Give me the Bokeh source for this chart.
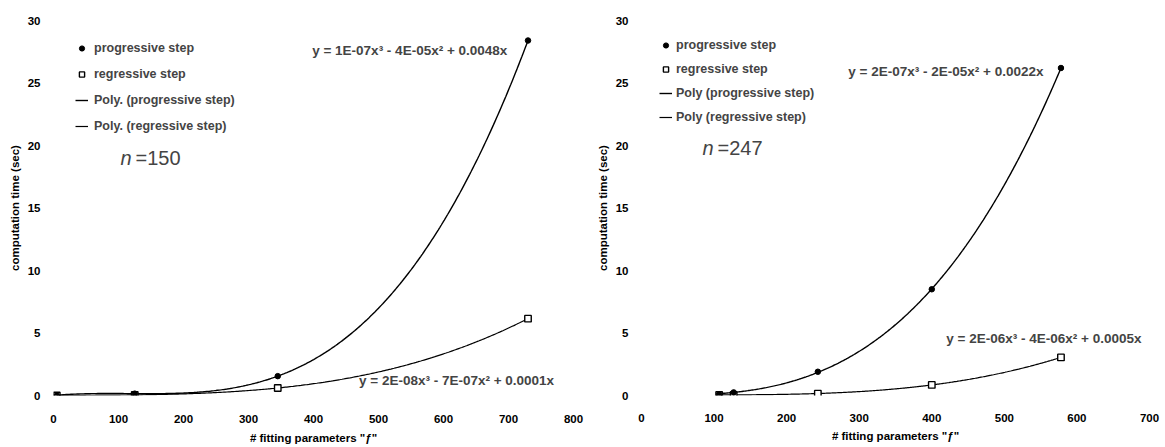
import numpy as np
from bokeh.plotting import figure
from bokeh.layouts import row
from bokeh.models import Legend, LegendItem, Label, FixedTicker
from bokeh.embed import file_html
from bokeh.resources import INLINE

# ---------------- data ----------------
left_x = [5, 125, 345, 730]
left_prog = [0.0, 0.15, 1.55, 28.4]
left_reg = [0.0, 0.05, 0.6, 6.15]
left_xticks = [0, 100, 200, 300, 400, 500, 600, 700, 800]

right_x = [107, 127, 243, 400, 578]
right_prog = [0.1, 0.25, 1.9, 8.5, 26.2]
right_reg = [0.05, 0.05, 0.15, 0.85, 3.05]
right_xticks = [0, 100, 200, 300, 400, 500, 600, 700]

y_ticks = [0, 5, 10, 15, 20, 25, 30]

legend_labels = ["progressive step", "regressive step",
                 "Poly. (progressive step)", "Poly. (regressive step)"]
legend_labels_right = ["progressive step", "regressive step",
                       "Poly (progressive step)", "Poly (regressive step)"]
left_eqs = ["y = 1E-07x³ - 4E-05x² + 0.0048x", "y = 2E-08x³ - 7E-07x² + 0.0001x"]
right_eqs = ["y = 2E-07x³ - 2E-05x² + 0.0022x", "y = 2E-06x³ - 4E-06x² + 0.0005x"]
n_values = ["=150", "=247"]
x_title = '# fitting parameters "ƒ"'
y_title = "computation time (sec)"

FONT = "Liberation Sans"


def cubic_fit(x, y):
    x = np.asarray(x, float)
    y = np.asarray(y, float)
    A = np.column_stack([x ** 3, x ** 2, x])
    c = np.linalg.lstsq(A, y, rcond=None)[0]
    xs = np.linspace(x.min(), x.max(), 300)
    ys = np.column_stack([xs ** 3, xs ** 2, xs]) @ c
    return xs, ys


def make_plot(xs, prog, reg, xmax, xticks, width, bl, br, bt, bb, labels,
              eqs, eq_pos, nval, n_pos, leg_loc, leg_h, leg_sp, xl_so, xt_so,
              leg_so):
    p = figure(width=width, height=447, x_range=(0, xmax), y_range=(0, 30),
               output_backend="svg", toolbar_location=None,
               min_border_left=bl, min_border_right=br,
               min_border_top=bt, min_border_bottom=bb)
    p.outline_line_color = None
    p.xgrid.grid_line_color = None
    p.ygrid.grid_line_color = None
    for ax in (p.xaxis[0], p.yaxis[0]):
        ax.axis_line_color = None
        ax.major_tick_line_color = None
        ax.minor_tick_line_color = None
        ax.major_label_text_font = FONT
        ax.major_label_text_font_style = "bold"
        ax.major_label_text_font_size = "11.5px"
        ax.major_label_text_color = "black"
        ax.axis_label_text_font = FONT
        ax.axis_label_text_font_style = "bold"
        ax.axis_label_text_font_size = "11.5px"
        ax.axis_label_text_color = "black"
    p.xaxis.ticker = FixedTicker(ticks=xticks)
    p.yaxis.ticker = FixedTicker(ticks=y_ticks)
    p.xaxis.major_label_standoff = xl_so
    p.xaxis.axis_label_standoff = xt_so
    p.yaxis.major_label_standoff = 7
    p.yaxis.axis_label_standoff = 4
    p.xaxis.axis_label = x_title
    p.yaxis.axis_label = y_title

    fx, fy = cubic_fit(xs, prog)
    gx, gy = cubic_fit(xs, reg)
    l1 = p.line(fx, fy, line_color="black", line_width=1.4)
    l2 = p.line(gx, gy, line_color="black", line_width=1.2)
    s2 = p.scatter(xs, reg, marker="square", size=6.5, fill_color="white",
                   line_color="black", line_width=1.4)
    s1 = p.scatter(xs, prog, marker="circle", size=5.5, fill_color="black",
                   line_color="black")

    leg = Legend(items=[LegendItem(label=labels[0], renderers=[s1]),
                        LegendItem(label=labels[1], renderers=[s2]),
                        LegendItem(label=labels[2], renderers=[l1]),
                        LegendItem(label=labels[3], renderers=[l2])],
                 location=leg_loc, border_line_color=None,
                 background_fill_alpha=0, padding=0, margin=0,
                 spacing=leg_sp, glyph_width=13, glyph_height=leg_h,
                 label_height=leg_h, label_standoff=leg_so,
                 label_text_font=FONT, label_text_font_size="12.5px",
                 label_text_font_style="bold")
    p.add_layout(leg, "center")

    for t, (ex, ey) in zip(eqs, eq_pos):
        p.add_layout(Label(x=ex, y=ey, text=t, text_font=FONT,
                           text_font_size="13.5px", text_font_style="bold",
                           text_baseline="middle", text_align="left"))
    p.add_layout(Label(x=n_pos[0], y=n_pos[1], text="n", text_font=FONT,
                       text_font_size="20px", text_font_style="italic",
                       text_baseline="middle"))
    p.add_layout(Label(x=n_pos[0], y=n_pos[1], x_offset=15, text=nval,
                       text_font=FONT, text_font_size="20px",
                       text_baseline="middle"))
    return p


p1 = make_plot(left_x, left_prog, left_reg, 800, left_xticks, 588, 53, 15, 20, 52,
               legend_labels, left_eqs, [(398, 27.6), (470, 1.2)],
               n_values[0], (103, 19.0), (22, 259), 20, 6, 13, 6, 6)
p2 = make_plot(right_x, right_prog, right_reg, 700, right_xticks, 577, 53, 16, 20, 49,
               legend_labels_right, right_eqs, [(285, 25.9), (420, 4.6)],
               n_values[1], (84, 19.8), (18, 269), 18, 6, 12, 5, 4)

layout = row(p1, p2)
open("out.html", "w").write(file_html(layout, INLINE))
